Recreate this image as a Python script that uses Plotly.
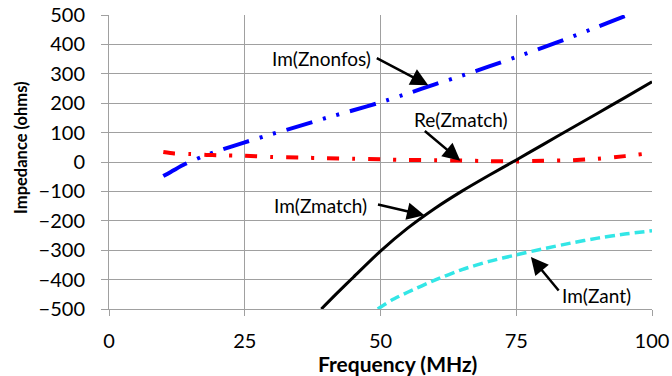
import plotly.graph_objects as go

# ---- data ----
f_nonfos = [10, 12, 14, 17, 20, 25, 30, 35, 40, 45, 50, 55, 60, 65, 70, 75, 80, 85, 90, 95, 96]
im_znonfos = [-48, -27, -7, 17, 37, 67, 95, 122, 150, 176, 203, 233, 264, 294, 325, 357, 390, 424, 460, 496, 504]

f_re = [10, 12, 15, 18, 20, 25, 30, 35, 40, 45, 50, 55, 60, 65, 70, 75, 80, 85, 90, 95, 100]
re_zmatch = [34, 29, 27, 24, 23, 21, 17, 15, 13, 11, 9, 7, 6, 5, 3, 2, 4, 6, 11, 20, 31]

f_im = [39.1, 42, 45, 50, 55, 60, 65, 70, 75, 80, 85, 90, 95, 100]
im_zmatch = [-500, -446, -392, -303, -225, -158, -99, -45, 7, 60, 113, 166, 219, 273]

f_ant = [49.5, 52, 55, 60, 65, 70, 75, 80, 85, 90, 95, 100]
im_zant = [-500, -470, -443, -402, -366, -338, -316, -295, -276, -259, -245, -234]

x_ticks = [0, 25, 50, 75, 100]
y_ticks = [-500, -400, -300, -200, -100, 0, 100, 200, 300, 400, 500]

labels = ["Im(Znonfos)", "Re(Zmatch)", "Im(Zmatch)", "Im(Zant)"]
label_pos = [(39.1, 353), (64.9, 145), (39.0, -149), (89.8, -453)]
arrow_head = [(58.8, 261), (64.7, 4), (58.1, -181), (77.7, -323)]
arrow_tail_px = [(-53, -28), (-37, -31), (-48, -11), (29, 35)]

FONT = "Lato"
GRID = "#A0A0A0"

fig = go.Figure()
fig.add_trace(go.Scatter(x=f_nonfos, y=im_znonfos, mode="lines", name=labels[0],
                         line=dict(color="#0000FF", width=4, dash="27px,11px,3px,11px,3px,11px",
                                   shape="spline", smoothing=0.6)))
fig.add_trace(go.Scatter(x=f_re, y=re_zmatch, mode="lines", name=labels[1],
                         line=dict(color="#FF0000", width=4, dash="12px,13px,3px,13px",
                                   shape="spline", smoothing=0.6)))
fig.add_trace(go.Scatter(x=f_im, y=im_zmatch, mode="lines", name=labels[2],
                         line=dict(color="#000000", width=3, shape="spline", smoothing=0.8)))
fig.add_trace(go.Scatter(x=f_ant, y=im_zant, mode="lines", name=labels[3],
                         line=dict(color="#33E6E6", width=3.5, dash="10px,5px",
                                   shape="spline", smoothing=0.6)))

annotations = []
for txt, (tx, ty) in zip(labels, label_pos):
    annotations.append(dict(x=tx, y=ty, xref="x", yref="y", text=txt, showarrow=False,
                            font=dict(family=FONT, size=19, color="black"),
                            xanchor="center", yanchor="middle"))
for (hx, hy), (ax, ay) in zip(arrow_head, arrow_tail_px):
    annotations.append(dict(x=hx, y=hy, xref="x", yref="y", text="", showarrow=True,
                            ax=ax, ay=ay, arrowhead=2, arrowsize=1.4, arrowwidth=2.5,
                            arrowcolor="black", standoff=0))
annotations.append(dict(x=-0.162, y=0.548, xref="paper", yref="paper",
                        text="<b>Impedance (ohms)</b>", textangle=-90, showarrow=False,
                        font=dict(family=FONT, size=16.5, color="black"),
                        xanchor="center", yanchor="middle"))
annotations.append(dict(x=0.531, y=-0.184, xref="paper", yref="paper",
                        text="<b>Frequency (MHz)</b>", showarrow=False,
                        font=dict(family=FONT, size=21, color="black"),
                        xanchor="center", yanchor="middle"))

fig.update_layout(
    width=672, height=376,
    margin=dict(l=109, r=20, t=15, b=67, autoexpand=False),
    paper_bgcolor="white", plot_bgcolor="white",
    showlegend=False,
    annotations=annotations,
    font=dict(family=FONT, size=20, color="black"),
)
fig.update_xaxes(range=[0, 100], tickvals=x_ticks, showgrid=True, gridcolor=GRID, gridwidth=1,
                 showline=True, linecolor=GRID, linewidth=1, ticks="outside", ticklen=6,
                 tickcolor=GRID, zeroline=False, tickfont=dict(family=FONT, size=20, color="black"),
                 ticklabelstandoff=8, automargin=False)
fig.update_yaxes(range=[-500, 500], tickvals=y_ticks, showgrid=True, gridcolor=GRID, gridwidth=1,
                 showline=True, linecolor=GRID, linewidth=1, ticks="outside", ticklen=7,
                 tickcolor=GRID, zeroline=False, tickfont=dict(family=FONT, size=20, color="black"),
                 ticklabelstandoff=12, automargin=False)

fig.write_html("out.html", config={"displayModeBar": False},
               post_script="document.body.style.margin='0';document.body.style.overflow='hidden';")
